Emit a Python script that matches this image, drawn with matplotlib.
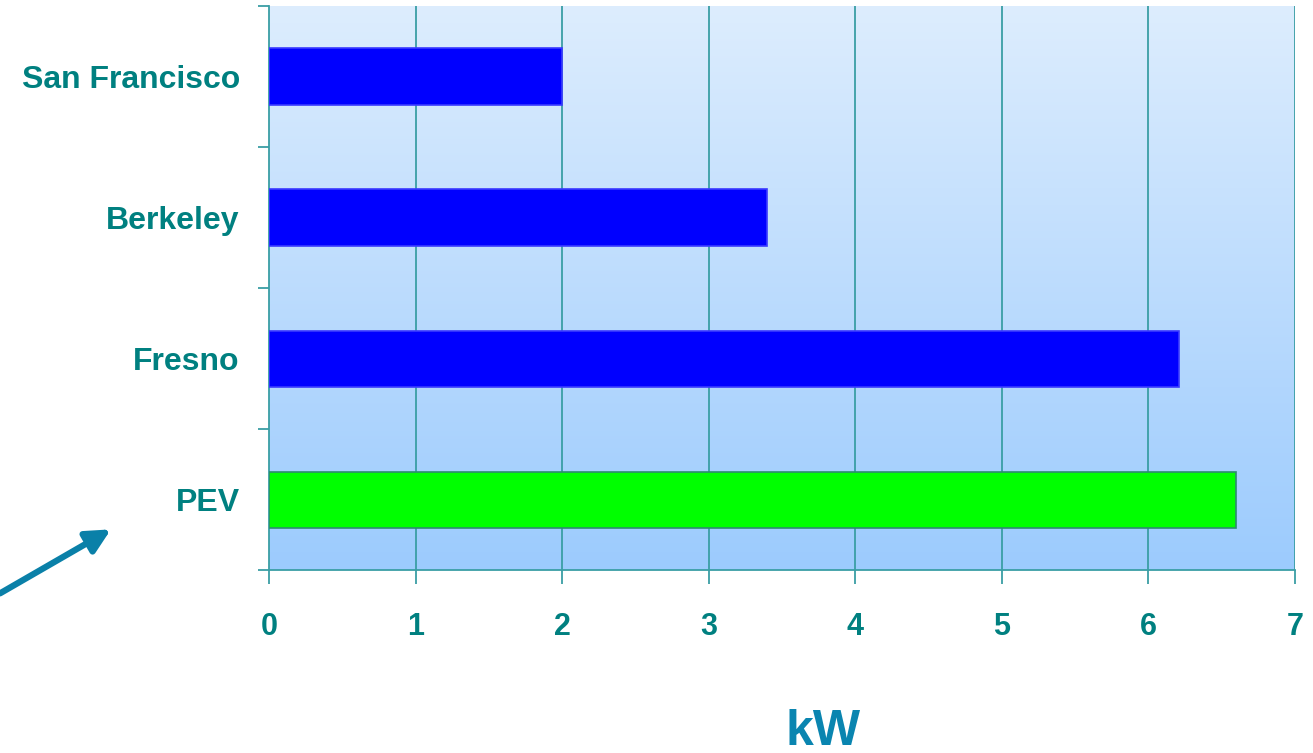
import numpy as np
import matplotlib
matplotlib.use("Agg")
import matplotlib.pyplot as plt
from matplotlib.colors import LinearSegmentedColormap
from matplotlib.patches import FancyArrowPatch

# ---------- dados ----------
categories = ["San Francisco", "Berkeley", "Fresno", "PEV"]
values_kw = [2.0, 3.4, 6.21, 6.6]
bar_colors = ["#0000FF", "#0000FF", "#0000FF", "#00FF00"]
edge_colors = ["#3A3AFF", "#3A3AFF", "#3A3AFF", "#2E8B70"]
xticks = [0, 1, 2, 3, 4, 5, 6, 7]

TEAL = "#008080"
GRID = "#3A9EA5"
ARROW = "#0A80A8"

plt.rcParams["font.family"] = ["Liberation Sans", "DejaVu Sans"]

fig = plt.figure(figsize=(13.13, 7.53), dpi=100)
ax = fig.add_axes([0.2049, 0.2424, 0.7814, 0.7496])

# fundo em degradê (claro em cima, mais azul embaixo)
cmap = LinearSegmentedColormap.from_list("bg", ["#DDEDFD", "#9CCBFE"])
grad = np.linspace(0, 1, 256).reshape(-1, 1)
ax.imshow(grad, cmap=cmap, aspect="auto", extent=[0, 1, 0, 1],
          transform=ax.transAxes, zorder=0)

y = np.arange(len(categories))
ax.barh(y, values_kw, height=0.4, color=bar_colors, edgecolor=edge_colors,
        linewidth=1.2, zorder=3)

ax.set_xlim(0, 7)
ax.set_ylim(len(categories) - 0.5, -0.5)
ax.set_xticks(xticks)
ax.set_xticklabels([str(v) for v in xticks])
ax.set_yticks(y)
ax.set_yticklabels(categories)
ax.set_yticks(np.arange(-0.5, len(categories), 1.0), minor=True)

for v in xticks[1:]:
    ax.axvline(v, color=GRID, lw=1.3, zorder=2)

for s in ["top", "right"]:
    ax.spines[s].set_visible(False)
for s in ["left", "bottom"]:
    ax.spines[s].set_color(GRID)
    ax.spines[s].set_linewidth(1.3)

ax.tick_params(axis="y", which="major", length=0, pad=21,
               labelsize=23, labelcolor=TEAL)
ax.tick_params(axis="y", which="minor", length=8, width=1.3,
               color=GRID, direction="out")
ax.tick_params(axis="x", length=10, width=1.3, color=GRID, direction="out",
               pad=20, labelsize=22, labelcolor=TEAL)
for lbl in ax.get_xticklabels() + ax.get_yticklabels():
    lbl.set_fontweight("bold")

fig.text(0.627, 0.028, "kW", color="#0A85B0", fontsize=36,
         fontweight="bold", ha="center", va="center")

arrow = FancyArrowPatch((0.0, 0.212), (0.0845, 0.297),
                        transform=fig.transFigure, arrowstyle="-|>",
                        mutation_scale=36, lw=4.5, color=ARROW,
                        shrinkA=0, shrinkB=0)
fig.add_artist(arrow)

fig.savefig("out.png", dpi=100)
